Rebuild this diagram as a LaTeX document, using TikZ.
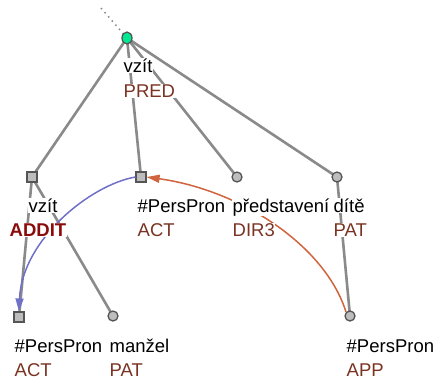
\documentclass[tikz,border=0pt]{standalone}
\usepackage{fontspec}
\setmainfont{Liberation Sans}
\usetikzlibrary{arrows.meta,shapes.geometric}
\definecolor{edgegray}{HTML}{8A8A8A}
\definecolor{nodefill}{HTML}{BDBDBD}
\definecolor{nodeborder}{HTML}{555555}
\definecolor{functor}{HTML}{7A3322}
\definecolor{addit}{HTML}{8B0A0A}
\definecolor{rootgreen}{HTML}{00E890}
\definecolor{corefblue}{HTML}{7070C8}
\definecolor{corefred}{HTML}{D0643E}
\tikzset{
  x=1pt, y=-1pt,
  circnode/.style={circle, draw=nodeborder, fill=nodefill, line width=1.3pt, minimum size=10pt, inner sep=0pt},
  sqnode/.style={rectangle, draw=nodeborder, fill=nodefill, line width=1.2pt, minimum size=10pt, inner sep=0pt},
  rootnode/.style={ellipse, draw=nodeborder, fill=rootgreen, line width=1.3pt, minimum width=10pt, minimum height=12pt, inner sep=0pt},
  treeedge/.style={draw=edgegray, line width=2.6pt},
  lemma/.style={anchor=base west, font=\fontsize{18.5}{20}\selectfont, text=black, fill=white, inner sep=0.5pt},
  func/.style={anchor=base west, font=\fontsize{18.5}{20}\selectfont, text=functor, fill=white, inner sep=0.5pt},
  coref/.style={line width=1.5pt, -{Triangle[length=13pt,width=8pt]}},
}
\begin{document}
\begin{tikzpicture}
\useasboundingbox (0,0) rectangle (438,383);
% node marker positions
\coordinate (r) at (127,38);
\coordinate (a) at (32,177);
\coordinate (b) at (141,177);
\coordinate (c) at (237,177);
\coordinate (d) at (337,177);
\coordinate (e) at (19,317);
\coordinate (f) at (113,316);
\coordinate (g) at (350,316);
\coordinate (top) at (101,8);
% edges
\draw[edgegray, line width=1.5pt, dash pattern=on 1.5pt off 4pt] (top) -- (r);
\draw[treeedge] (r) -- (a);
\draw[treeedge] (r) -- (b);
\draw[treeedge] (r) -- (c);
\draw[treeedge] (r) -- (d);
\draw[treeedge] (a) -- (e);
\draw[treeedge] (a) -- (f);
\draw[treeedge] (d) -- (g);
% node shapes
\node[rootnode] (nr) at (r) {};
\node[sqnode] (na) at (a) {};
\node[sqnode] (nb) at (b) {};
\node[circnode] (nc) at (c) {};
\node[circnode] (nd) at (d) {};
\node[sqnode] (ne) at (e) {};
\node[circnode] (nf) at (f) {};
\node[circnode] (ng) at (g) {};
% coreference arrows
\draw[coref, draw=corefblue] (nb.west) .. controls (90,185) and (22,240) .. (ne.north);
\draw[coref, draw=corefred] (ng.north west) .. controls (325,245) and (240,190) .. (nb.east);
% labels
\node[lemma] (lr) at (123,72) {vzít};
\node[func] (fr) at (123,97) {PRED};
\node[lemma] (la) at (28,212) {vzít};
\node[anchor=base west, font=\fontsize{18.5}{20}\selectfont\bfseries, text=addit, fill=white, inner sep=0.5pt] (fa) at (9,236) {ADDIT};
\node[lemma] (lb) at (137,212) {\#PersPron};
\node[func] (fb) at (137,236) {ACT};
\node[lemma] (lc) at (232,212) {představení};
\node[func] (fc) at (232,236) {DIR3};
\node[lemma] (ld) at (333,212) {dítě};
\node[func] (fd) at (333,236) {PAT};
\node[lemma] (le) at (14,352) {\#PersPron};
\node[func] (fe) at (14,376) {ACT};
\node[lemma] (lf) at (109,352) {manžel};
\node[func] (ff) at (109,376) {PAT};
\node[lemma] (lg) at (346,352) {\#PersPron};
\node[func] (fg) at (346,376) {APP};
\end{tikzpicture}
\end{document}
